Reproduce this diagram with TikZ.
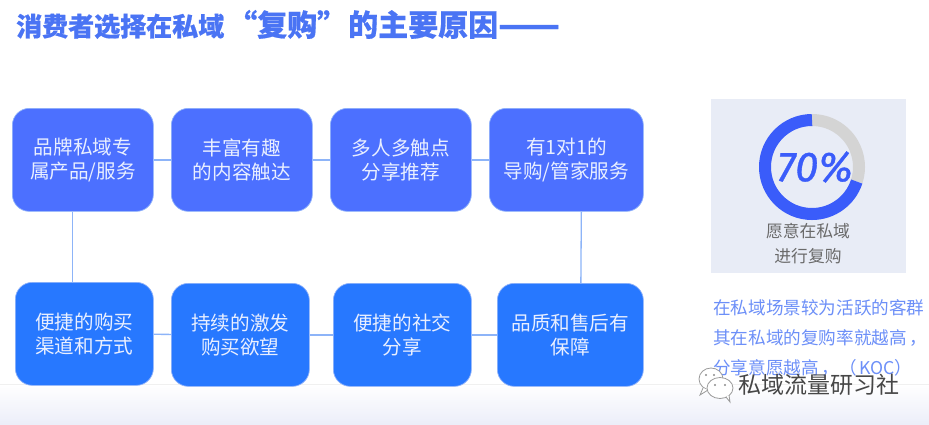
\documentclass[tikz,border=0pt]{standalone}
\usepackage{fontspec}
\setmainfont{Noto Sans CJK SC}[BoldFeatures={FakeBold=0.6}]
\newfontfamily\pctfont{Fira Sans}[ItalicFeatures={FakeBold=0.8}]
\definecolor{topblue}{HTML}{4C70FF}
\definecolor{lowblue}{HTML}{2778FF}
\definecolor{edgeblue}{HTML}{8FB2FA}
\definecolor{linkblue}{HTML}{8DB4F8}
\definecolor{titleblue}{HTML}{4A74F4}
\definecolor{panelbg}{HTML}{E8ECF6}
\definecolor{ringgray}{HTML}{D4D4D4}
\definecolor{ringblue}{HTML}{3A5CFA}
\definecolor{notegray}{HTML}{6A6A6A}
\definecolor{noteblue}{HTML}{6C8FF8}
\definecolor{boxtext}{HTML}{E9EFFF}
\definecolor{fadeend}{HTML}{ECEEF9}
\tikzset{
  card/.style={draw=edgeblue,line width=.7pt,rounded corners=17pt,inner sep=0pt,align=center,
    text=boxtext,font=\fontsize{19.6}{24}\selectfont,anchor=north west},
  upper/.style={card,fill=topblue},
  lower/.style={card,fill=lowblue},
  link/.style={draw=linkblue,line width=1.3pt},
  notetext/.style={text=noteblue,font=\fontsize{17.6}{20}\selectfont,anchor=west,inner sep=0pt},
  graytext/.style={text=notegray,font=\fontsize{16.8}{20}\selectfont,inner sep=0pt},
  bubble/.style={draw=gray!80,fill=white,line width=.8pt},
  dotm/.style={fill=gray!90,draw=none},
  ringpart/.style={line width=12pt,line cap=butt}
}
\begin{document}
\begin{tikzpicture}[x=1pt,y=-1pt]
\useasboundingbox (0,0) rectangle (929,424);
\fill[white] (0,0) rectangle (929,424);
% title
\node[anchor=base west,inner sep=0pt,text=titleblue,font=\bfseries\fontsize{26}{30}\selectfont] (title) at (16,36) {消费者选择在私域\hspace{3pt}\fontsize{30}{30}\selectfont “复购”\hspace{1pt}的主要原因\fontsize{36}{30}\selectfont\raisebox{-1.5pt}{——}};
% right panel
\fill[panelbg] (711,99) rectangle (906,273);
\begin{scope}[y=1pt]
\coordinate (ringc) at (812,-167);
\draw[ringpart,ringgray] (ringc) ++(90:47) arc[start angle=90,end angle=-18,radius=47];
\draw[ringpart,ringblue] (ringc) ++(90:47) arc[start angle=90,end angle=342,radius=47];
\end{scope}
\node[text=ringblue,inner sep=0pt,font=\pctfont\itshape\fontsize{42}{42}\selectfont] (pct) at (815,167) {70\%};
\node[graytext] (n1) at (808,231) {愿意在私域};
\node[graytext] (n2) at (808,256) {进行复购};
% blue note
\node[notetext] (t1) at (713,308) {在私域场景较为活跃的客群};
\node[notetext] (t2) at (713,338) {其在私域的复购率就越高\hspace{3pt}，};
\node[notetext] (t3) at (713,368) {分享意愿越高\hspace{3pt}，（\hspace{2pt}KOC）};
% strip that cuts the last line, then the bottom fade
\fill[white] (660,375.5) rectangle (929,384);
\shade[top color=white,bottom color=fadeend] (0,384) rectangle (929,424);
\draw[gray!12,line width=.6pt] (0,384) -- (929,384);
% cards
\node[upper,minimum width=141pt,minimum height=103pt] (b1) at (12,108) {品牌私域专\\属产品/服务};
\node[upper,minimum width=141pt,minimum height=103pt] (b2) at (171,108) {丰富有趣\\的内容触达};
\node[upper,minimum width=141pt,minimum height=103pt] (b3) at (330,108) {多人多触点\\分享推荐};
\node[upper,minimum width=154pt,minimum height=103pt] (b4) at (489,108) {有1对1的\\导购/管家服务};
\node[lower,minimum width=138pt,minimum height=103pt] (b5) at (15,282) {便捷的购买\\渠道和方式};
\node[lower,minimum width=138pt,minimum height=103pt] (b6) at (171,283) {持续的激发\\购买欲望};
\node[lower,minimum width=138pt,minimum height=103pt] (b7) at (333,283) {便捷的社交\\分享};
\node[lower,minimum width=146pt,minimum height=103pt] (b8) at (497,283) {品质和售后有\\保障};
% connectors
\draw[link] (b1) -- (b2);
\draw[link] (b2) -- (b3);
\draw[link] (b3) -- (b4);
\draw[link] (b5) -- (b6);
\draw[link] (b6) -- (b7);
\draw[link] (b7) -- (b8);
\draw[link] ([xshift=-10.5pt]b1.south) -- ([xshift=-12pt]b5.north);
\draw[link] ([xshift=15pt]b4.south) -- ([xshift=10.5pt]b8.north);
% watermark icon
\draw[bubble] (711,379) ellipse[x radius=12,y radius=11];
\draw[bubble] (703,388) -- (700,395) -- (708,390);
\draw[bubble] (720,388) ellipse[x radius=13,y radius=10.5];
\draw[bubble] (726,397) -- (730,402) -- (729,395);
\fill[dotm] (706,375) circle(1.1) (714,375) circle(1.1) (715,385) circle(1.1) (725,385) circle(1.1);
% watermark text
\node[inner sep=0pt,text=black!72,font=\fontsize{23}{24}\selectfont] (wm) at (819,384.7) {私域流量研习社};
\end{tikzpicture}
\end{document}
